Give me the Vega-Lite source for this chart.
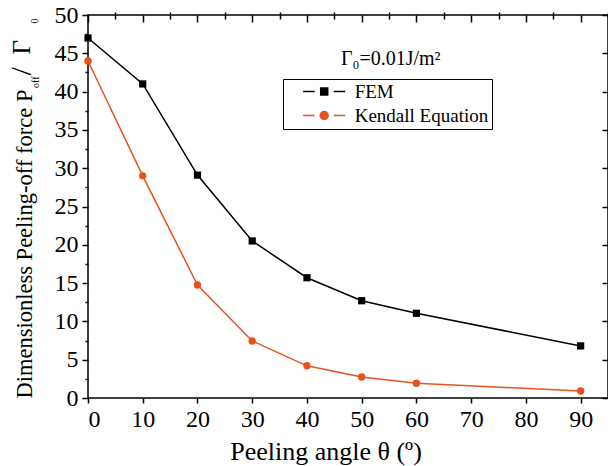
{
  "$schema": "https://vega.github.io/schema/vega-lite/v6.json",
  "width": 520,
  "height": 383,
  "autosize": "none",
  "padding": {"left": 88, "top": 15, "right": 0, "bottom": 68},
  "config": {
    "view": {"stroke": "black", "strokeWidth": 1.5},
    "font": "Liberation Serif, Times New Roman, Times, serif",
    "axis": {
      "grid": false, "domain": false, "tickColor": "black", "tickWidth": 1.5,
      "labelFont": "Liberation Serif, Times New Roman, Times, serif", "labelFontSize": 24, "labelColor": "black",
      "titleFont": "Liberation Serif, Times New Roman, Times, serif", "titleColor": "black", "titleFontWeight": "normal"
    }
  },
  "datasets": {
    "d": [
      {"angle": 0, "value": 47.0, "series": "FEM"},
      {"angle": 10, "value": 41.0, "series": "FEM"},
      {"angle": 20, "value": 29.1, "series": "FEM"},
      {"angle": 30, "value": 20.5, "series": "FEM"},
      {"angle": 40, "value": 15.7, "series": "FEM"},
      {"angle": 50, "value": 12.7, "series": "FEM"},
      {"angle": 60, "value": 11.06, "series": "FEM"},
      {"angle": 90, "value": 6.8, "series": "FEM"},
      {"angle": 0, "value": 44.0, "series": "Kendall Equation"},
      {"angle": 10, "value": 29.0, "series": "Kendall Equation"},
      {"angle": 20, "value": 14.75, "series": "Kendall Equation"},
      {"angle": 30, "value": 7.45, "series": "Kendall Equation"},
      {"angle": 40, "value": 4.2, "series": "Kendall Equation"},
      {"angle": 50, "value": 2.75, "series": "Kendall Equation"},
      {"angle": 60, "value": 1.92, "series": "Kendall Equation"},
      {"angle": 90, "value": 0.92, "series": "Kendall Equation"}
    ]
  },
  "layer": [
    {
      "data": {"name": "d"},
      "transform": [{"filter": "datum.series === 'Kendall Equation'"}],
      "mark": {"type": "line", "color": "#e8521e", "strokeWidth": 1.5},
      "encoding": {
        "x": {"field": "angle", "type": "quantitative", "scale": {"domain": [0, 95], "nice": false, "zero": false},
          "axis": {"values": [0, 10, 20, 30, 40, 50, 60, 70, 80, 90], "tickSize": 5, "labelPadding": 23, "labelBaseline": "alphabetic",
            "title": "Peeling angle θ (º)", "titleFontSize": 26, "titleX": 237.5, "titleY": 61, "titleAlign": "center", "titleBaseline": "alphabetic"}},
        "y": {"field": "value", "type": "quantitative", "scale": {"domain": [0, 50], "nice": false},
          "axis": {"values": [0, 5, 10, 15, 20, 25, 30, 35, 40, 45, 50], "tickSize": 6, "labelPadding": 4,
            "title": "Dimensionless Peeling-off force P", "titleFontSize": 22.5, "titleAngle": -90, "titleX": -57, "titleY": 383, "titleAlign": "left", "titleBaseline": "alphabetic"}}
      }
    },
    {
      "data": {"name": "d"},
      "transform": [{"filter": "datum.series === 'Kendall Equation'"}],
      "mark": {"type": "point", "shape": "circle", "filled": true, "opacity": 1, "color": "#e8521e", "size": 55},
      "encoding": {
        "x": {"field": "angle", "type": "quantitative", "scale": {"domain": [0, 95], "nice": false, "zero": false},
          "axis": {"values": [5, 15, 25, 35, 45, 55, 65, 75, 85, 95], "tickSize": 3, "labels": false, "title": null}},
        "y": {"field": "value", "type": "quantitative", "scale": {"domain": [0, 50], "nice": false},
          "axis": {"orient": "left", "values": [2.5, 7.5, 12.5, 17.5, 22.5, 27.5, 32.5, 37.5, 42.5, 47.5], "tickSize": 3, "labels": false,
            "title": "off", "titleFontSize": 10, "titleAngle": -90, "titleX": -50, "titleY": 72.5, "titleAlign": "left", "titleBaseline": "alphabetic"}}
      }
    },
    {
      "data": {"name": "d"},
      "transform": [{"filter": "datum.series === 'FEM'"}],
      "mark": {"type": "line", "color": "black", "strokeWidth": 1.5},
      "encoding": {
        "x": {"field": "angle", "type": "quantitative", "scale": {"domain": [0, 95], "nice": false, "zero": false},
          "axis": {"orient": "top", "values": [0, 10, 20, 30, 40, 50, 60, 70, 80, 90], "tickSize": -7, "labels": false, "title": null}},
        "y": {"field": "value", "type": "quantitative", "scale": {"domain": [0, 50], "nice": false},
          "axis": {"orient": "right", "values": [0, 5, 10, 15, 20, 25, 30, 35, 40, 45, 50], "tickSize": -6, "labels": false,
            "title": "/", "titleFontSize": 30, "titleAngle": -90, "titleX": -578, "titleY": 60, "titleAlign": "left", "titleBaseline": "alphabetic"}}
      }
    },
    {
      "data": {"name": "d"},
      "transform": [{"filter": "datum.series === 'FEM'"}],
      "mark": {"type": "point", "shape": "square", "filled": true, "opacity": 1, "color": "black", "size": 52},
      "encoding": {
        "x": {"field": "angle", "type": "quantitative", "scale": {"domain": [0, 95], "nice": false, "zero": false},
          "axis": {"orient": "top", "values": [5, 15, 25, 35, 45, 55, 65, 75, 85, 95], "tickSize": -4, "labels": false, "title": null}},
        "y": {"field": "value", "type": "quantitative", "scale": {"domain": [0, 50], "nice": false},
          "axis": {"orient": "left", "ticks": false, "labels": false,
            "title": "0", "titleFontSize": 10, "titleAngle": -90, "titleX": -51, "titleY": 8, "titleAlign": "left", "titleBaseline": "alphabetic"}}
      }
    },
    {
      "data": {"name": "d"},
      "transform": [{"filter": "datum.angle < 0"}],
      "mark": {"type": "point", "filled": true, "strokeWidth": 1.5},
      "encoding": {
        "x": {"field": "angle", "type": "quantitative", "scale": {"domain": [0, 95], "nice": false, "zero": false}, "axis": null},
        "y": {"field": "value", "type": "quantitative", "scale": {"domain": [0, 50], "nice": false},
          "axis": {"orient": "left", "ticks": false, "labels": false,
            "title": "Γ", "titleFontSize": 25, "titleAngle": -90, "titleX": -59, "titleY": 39, "titleAlign": "left", "titleBaseline": "alphabetic"}},
        "fill": {"field": "series", "type": "nominal",
          "scale": {"domain": ["FEM", "Kendall Equation"], "range": ["black", "#e8521e"]},
          "legend": {"orient": "none", "legendX": 195, "legendY": 64, "title": null, "strokeColor": "black", "padding": 3,
            "symbolOffset": 28.7, "labelOffset": 21, "labelFont": "Liberation Serif, Times New Roman, Times, serif", "labelFontSize": 19, "labelColor": "black",
            "symbolSize": 196, "symbolStrokeWidth": 1.5, "rowPadding": 4, "symbolOpacity": 1}},
        "stroke": {"field": "series", "type": "nominal",
          "scale": {"domain": ["FEM", "Kendall Equation"], "range": ["black", "#e8521e"]},
          "legend": {"orient": "none", "legendX": 195, "legendY": 64, "title": null, "strokeColor": "black", "padding": 3,
            "symbolOffset": 28.7, "labelOffset": 21, "labelFont": "Liberation Serif, Times New Roman, Times, serif", "labelFontSize": 19, "labelColor": "black",
            "symbolSize": 196, "symbolStrokeWidth": 1.5, "rowPadding": 4, "symbolOpacity": 1}},
        "shape": {"field": "series", "type": "nominal",
          "scale": {"domain": ["FEM", "Kendall Equation"], "range": [
            "M-3,0H-1.35M1.35,0H3M-0.5,-0.5H0.5V0.5H-0.5Z",
            "M-3,0H-1.35M1.35,0H3M-0.57,0A0.57,0.57,0,1,0,0.57,0A0.57,0.57,0,1,0,-0.57,0Z"]},
          "legend": {"orient": "none", "legendX": 195, "legendY": 64, "title": null, "strokeColor": "black", "padding": 3,
            "symbolOffset": 28.7, "labelOffset": 21, "labelFont": "Liberation Serif, Times New Roman, Times, serif", "labelFontSize": 19, "labelColor": "black",
            "symbolSize": 196, "symbolStrokeWidth": 1.5, "rowPadding": 4, "symbolOpacity": 1}}
      }
    },
    {
      "data": {"values": [{}]},
      "mark": {"type": "text", "text": "Γ₀=0.01J/m²", "font": "Liberation Serif, Times New Roman, Times, serif", "fontSize": 20, "align": "left", "baseline": "alphabetic", "color": "black"},
      "encoding": {
        "x": {"datum": 46.2, "type": "quantitative", "scale": {"domain": [0, 95], "nice": false, "zero": false}, "axis": null},
        "y": {"datum": 43.47, "type": "quantitative", "scale": {"domain": [0, 50], "nice": false}, "axis": null}
      }
    }
  ],
  "resolve": {"axis": {"x": "independent", "y": "independent"}}
}
